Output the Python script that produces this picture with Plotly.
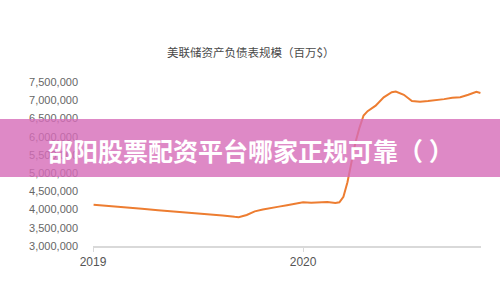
import plotly.graph_objects as go

title_text = "美联储资产负债表规模（百万$）"
banner_text = "邵阳股票配资平台哪家正规可靠（ ）"

dates = [
    "2019-01-02", "2019-01-30", "2019-02-27", "2019-03-27", "2019-04-24",
    "2019-05-22", "2019-06-19", "2019-07-17", "2019-08-14", "2019-09-04",
    "2019-09-11", "2019-09-25", "2019-10-09", "2019-10-23", "2019-11-06",
    "2019-11-20", "2019-12-04", "2019-12-18", "2020-01-01", "2020-01-15",
    "2020-01-29", "2020-02-12", "2020-02-26", "2020-03-04", "2020-03-11",
    "2020-03-18", "2020-03-25", "2020-04-01", "2020-04-08", "2020-04-15",
    "2020-04-22", "2020-04-29", "2020-05-06", "2020-05-20", "2020-06-03",
    "2020-06-10", "2020-06-24", "2020-07-08", "2020-07-22", "2020-08-05",
    "2020-08-19", "2020-09-02", "2020-09-16", "2020-09-30", "2020-10-14",
    "2020-10-28", "2020-11-04",
]
values = [
    4130000, 4100000, 4060000, 4020000, 3980000,
    3950000, 3920000, 3880000, 3840000, 3800000,
    3790000, 3850000, 3950000, 4000000, 4050000,
    4080000, 4120000, 4170000, 4200000, 4190000,
    4200000, 4210000, 4180000, 4200000, 4350000,
    4750000, 5300000, 5850000, 6250000, 6580000,
    6700000, 6780000, 6850000, 7080000, 7220000,
    7240000, 7150000, 6980000, 6960000, 6980000,
    7000000, 7030000, 7070000, 7080000, 7150000,
    7230000, 7200000,
]
y_ticks = [3000000, 3500000, 4000000, 4500000, 5000000, 5500000,
           6000000, 6500000, 7000000, 7500000]
y_tick_labels = ["3,000,000", "3,500,000", "4,000,000", "4,500,000", "5,000,000",
                 "5,500,000", "6,000,000", "6,500,000", "7,000,000", "7,500,000"]

W, H = 500, 300
L, R, T, B = 93, 19, 82, 54
pw, ph = W - L - R, H - T - B

def px_x(x):
    return (x - L) / pw

def px_y(y):
    return (H - B - y) / ph

fig = go.Figure()
fig.add_trace(go.Scatter(
    x=dates, y=values, mode="lines",
    line=dict(color="#ED7D31", width=2),
    hoverinfo="skip", showlegend=False,
))

fig.update_layout(
    width=W, height=H,
    margin=dict(l=L, r=R, t=T, b=B, pad=0),
    paper_bgcolor="white", plot_bgcolor="white",
    showlegend=False,
    xaxis=dict(
        type="date",
        range=["2019-01-01", "2020-11-05"],
        tickvals=["2019-01-01", "2020-01-01"],
        ticktext=["2019", "2020"],
        showgrid=False, zeroline=False,
        showline=True, linecolor="#D9D9D9", linewidth=1.5,
        ticks="outside", ticklen=4, tickcolor="#D9D9D9", tickwidth=1,
        tickfont=dict(family="Liberation Sans, Arial", size=12, color="#555555"),
    ),
    yaxis=dict(
        range=[3000000, 7500000],
        tickvals=y_ticks, ticktext=y_tick_labels,
        showgrid=False, zeroline=False, showline=False,
        ticks="", ticklabelstandoff=14,
        tickfont=dict(family="Liberation Sans, Arial", size=11, color="#666666"),
    ),
    font=dict(family="Noto Sans CJK SC"),
)

fig.add_annotation(
    xref="paper", yref="paper", x=px_x(250), y=px_y(52),
    text=title_text, showarrow=False, xanchor="center", yanchor="middle",
    font=dict(family="Noto Sans CJK SC", size=11.5, color="#4a4a4a"),
)

fig.add_shape(
    type="rect", xref="paper", yref="paper",
    x0=px_x(0), x1=px_x(500), y0=px_y(177), y1=px_y(119),
    fillcolor="rgba(214,108,184,0.8)", line=dict(width=0), layer="above",
)

fig.add_annotation(
    xref="paper", yref="paper", x=px_x(251), y=px_y(150),
    text="<b>" + banner_text + "</b>", showarrow=False,
    xanchor="center", yanchor="middle",
    font=dict(family="Noto Sans CJK SC", size=25, color="white"),
)

fig.write_html("out.html")
